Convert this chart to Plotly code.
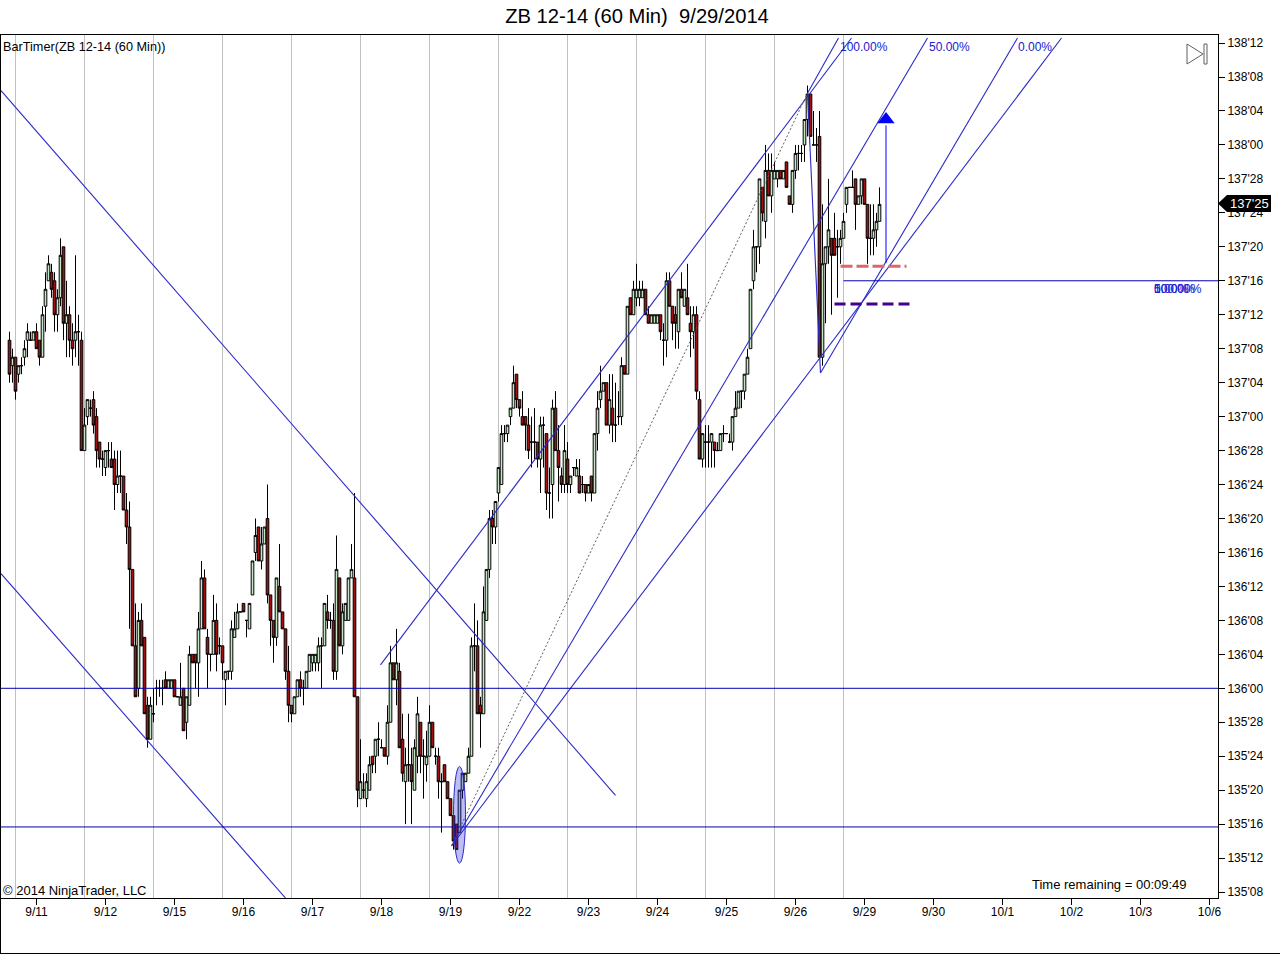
import plotly.graph_objects as go

# prices are in 32nds above 135'00, bars are hourly (23 per session)
opens = [
    73,70,71,69,70,71,73,73,73,74, 73,71,77,80,81,80,76,78,84,75,
    76,73,73,74,73,60,64,65,66,64, 61,59,58,60,59,59,56,57,57,53,
    51,46,37,32,40,38,30,26,29,32, 32,32,33,32,32,33,31,30,32,28,
    30,36,36,35,39,45,38,36,36,40, 37,37,33,34,34,38,39,41,42,40,
    39,43,48,51,47,49,52,43,40,38, 44,41,39,34,30,29,31,33,32,32,
    34,35,35,35,37,37,41,40,40,34, 45,37,40,40,45,45,31,19,20,19,
    20,24,24,26,25,25,24,28,35,33, 34,26,21,23,23,20,24,28,24,23,
    24,28,24,24,21,23,21,19,17,16, 15,20,21,22,24,37,37,30,29,40,
    46,52,51,55,56,62,62,64,65,69, 66,64,64,63,61,61,61,59,63,62,
    55,56,65,60,57,56,59,56,58,57, 57,56,56,55,57,55,62,66,67,68,
    63,65,63,64,64,70,69,78,76,78, 78,78,79,76,75,75,75,76,73,73,
    80,77,76,74,79,77,78,75,74,76, 66,59,61,61,61,61,60,60,62,62,
    61,61,64,65,67,67,69,72,80,84, 84,91,87,93,90,92,92,93,92,94,
    90,89,93,95,95,96,99,102,96,96, 97,71,82,84,85,85,84,84,85,89,
    91,91,92,89,90,92,89,85,85,86, 87,
]
highs = [
    74,72,71,70,71,73,75,74,74,75, 73,77,81,83,82,81,79,85,84,80,
    77,75,83,76,74,65,66,66,67,65, 61,60,60,61,61,60,60,60,57,55,
    54,46,42,41,42,38,31,31,32,33, 33,33,34,33,33,33,31,35,32,31,
    37,36,36,41,47,46,39,36,43,42, 38,37,34,34,40,41,42,41,42,40,
    42,47,52,51,51,51,56,43,40,45, 49,41,39,37,30,31,33,34,33,34,
    36,36,36,38,38,42,43,41,42,50, 45,42,42,45,49,55,31,26,22,22,
    24,24,26,28,26,25,30,37,35,39, 35,29,25,29,25,26,31,28,26,27,
    30,28,25,25,22,23,21,19,17,16, 20,22,22,25,38,42,40,31,44,46,
    53,53,54,58,63,63,63,65,70,69, 66,67,64,65,64,65,61,64,64,62,
    58,66,67,63,58,63,61,57,58,59, 59,57,56,56,57,62,67,70,68,68,
    69,69,68,67,71,70,77,78,80,82, 80,80,79,77,76,76,76,76,75,81,
    81,77,77,79,81,79,82,77,77,77, 67,62,63,63,62,61,61,62,63,62,
    62,64,67,67,67,69,72,79,86,84, 92,91,96,95,95,94,93,93,93,94,
    90,93,96,96,96,99,103,102,100,98, 100,89,84,92,85,88,86,86,88,91,
    91,93,92,90,92,92,89,89,89,88, 91,
]
lows = [
    68,68,66,68,69,70,71,73,73,72, 70,71,74,80,78,74,74,77,73,71,
    71,70,71,70,60,60,63,64,62,58, 58,57,57,58,58,53,55,55,53,49,
    39,37,31,31,37,29,25,26,28,30, 31,30,32,32,32,31,31,30,27,26,
    30,35,32,31,39,39,32,34,36,34, 36,33,30,33,33,38,39,41,41,38,
    39,43,47,47,46,49,42,37,35,37, 41,39,33,28,28,29,31,31,30,32,
    34,34,34,34,32,37,39,39,33,33, 37,36,40,40,45,31,18,19,19,18,
    20,22,22,24,25,24,23,28,33,30, 25,21,16,21,16,20,22,22,19,21,
    24,25,23,19,15,21,19,17,13,13, 15,19,21,22,24,34,29,25,29,40,
    45,49,49,54,56,61,61,63,65,65, 64,63,60,59,58,59,58,55,58,53,
    52,52,60,54,55,55,55,55,57,57, 55,55,54,55,54,55,60,65,67,63,
    62,61,61,63,63,69,69,76,76,77, 77,78,76,75,75,75,75,73,70,71,
    77,73,72,72,78,77,76,71,72,66, 59,58,58,58,58,58,60,60,61,62,
    61,60,64,65,65,66,69,72,79,81, 82,87,85,90,88,92,91,92,92,91,
    89,88,92,93,94,94,97,97,96,94, 71,70,75,82,76,83,78,82,85,88,
    91,91,86,89,89,89,82,83,83,84, 87,
]
closes = [
    69,71,67,70,70,72,74,73,74,72, 71,76,79,82,79,76,78,83,75,76,
    73,72,74,74,60,63,66,65,63,60, 59,59,60,60,58,56,57,57,53,51,
    46,37,31,40,37,29,26,30,29,32, 32,32,32,33,33,31,31,31,27,31,
    36,35,35,39,45,39,36,36,40,36, 37,35,34,34,39,39,41,41,41,40,
    42,47,50,47,49,51,43,40,38,45, 41,39,34,30,29,31,33,32,32,34,
    36,36,36,37,37,42,40,40,34,46, 37,41,42,45,46,31,20,21,20,21,
    23,23,26,26,25,24,28,35,33,35, 25,22,23,23,21,25,29,24,24,24,
    28,25,24,21,21,21,19,17,14,13, 20,22,22,24,37,37,29,29,41,46,
    52,51,54,58,62,62,63,65,68,66, 65,63,63,60,61,61,59,63,63,55,
    55,65,60,58,56,60,56,57,58,58, 55,56,55,56,55,62,65,67,68,63,
    66,63,63,64,70,69,77,76,79,79, 79,79,76,75,76,76,76,74,73,80,
    77,75,75,79,78,79,76,74,76,67, 59,62,61,61,62,60,60,62,62,62,
    61,64,65,67,67,69,71,79,84,84, 92,88,93,90,93,93,93,92,93,91,
    89,93,95,95,95,99,102,97,96,96, 71,82,84,86,83,83,84,85,87,91,
    91,91,89,90,92,89,85,85,86,87, 89,
]

price_ticks = [8,12,16,20,24,28,32,36,40,44,48,52,56,60,64,68,72,76,80,84,88,92,96,100,104,108]
price_labels = ["135'08","135'12","135'16","135'20","135'24","135'28","136'00","136'04","136'08",
                "136'12","136'16","136'20","136'24","136'28","137'00","137'04","137'08","137'12",
                "137'16","137'20","137'24","137'28","138'00","138'04","138'08","138'12"]
date_ticks = [9,32,55,78,101,124,147,170,193,216,239,262,285,308,331,354,377,400]
date_labels = ["9/11","9/12","9/15","9/16","9/17","9/18","9/19","9/22","9/23","9/24","9/25",
               "9/26","9/29","9/30","10/1","10/2","10/3","10/6"]
session_breaks = [2,25,48,71,94,117,140,163,186,209,232,255,278]

# drawing tools, (bar, bar) and (price, price)
down_line_a = ([-2.83, 202], [102.4, 19.4])
down_line_b = ([-2.83, 92], [45.5, 7.3])
channel_top = ([123.67, 280.67], [34.75, 108.6])
channel_bottom = ([147.33, 350.67], [13.43, 108.6])
fork_100 = ([266, 276.33], [102.1, 108.6])
fork_50 = ([147.33, 306], [13.43, 108.6])
fork_0 = ([270.33, 336], [69.14, 108.6])
fork_base = ([266, 270.33], [102.1, 69.14])
fork_guide = ([147.33, 266], [13.43, 102.1])
level_136 = ([-2.83, 402.83], [32, 32])
level_135 = ([-2.83, 402.83], [15.67, 15.67])
level_137 = ([278, 402.83], [80, 80])
arrow_x = [292.17, 292.17]
arrow_y = [82.1, 98.3]
stop_red = ([277, 299], [81.7, 81.7])
stop_purple = ([275, 300.33], [77.27, 77.27])

FONT = "Liberation Sans"
BLUE = "#2a2ac8"


def px(x):
    return (x - 1) / 1217


def py(y):
    return (898 - y) / 863


fig = go.Figure()
fig.add_trace(go.Candlestick(
    x=list(range(len(opens))), open=opens, high=highs, low=lows, close=closes,
    increasing=dict(fillcolor="#c4e6c4", line=dict(color="#000000", width=1)),
    decreasing=dict(fillcolor="#a01010", line=dict(color="#000000", width=1)),
    whiskerwidth=0,
))

for line in [down_line_a, down_line_b, channel_top, channel_bottom, fork_100, fork_50, fork_0, fork_base]:
    fig.add_trace(go.Scatter(x=line[0], y=line[1], mode="lines", line=dict(color=BLUE, width=1.1)))
for line in [level_136, level_135, level_137]:
    fig.add_trace(go.Scatter(x=line[0], y=line[1], mode="lines", line=dict(color="#0000b0", width=1)))
fig.add_trace(go.Scatter(x=fork_guide[0], y=fork_guide[1], mode="lines",
                         line=dict(color="#606060", width=1, dash="2px,2px")))
fig.add_trace(go.Scatter(x=stop_red[0], y=stop_red[1], mode="lines",
                         line=dict(color="#e06666", width=3, dash="12px,4px")))
fig.add_trace(go.Scatter(x=stop_purple[0], y=stop_purple[1], mode="lines",
                         line=dict(color="#400090", width=3, dash="11px,5px")))
fig.add_trace(go.Scatter(x=arrow_x, y=arrow_y, mode="lines", line=dict(color="#0000ff", width=1)))
fig.add_trace(go.Scatter(x=arrow_x[1:], y=[99.0], mode="markers",
                         marker=dict(symbol="triangle-up", size=15, color="#0000ff")))

shapes = []
for b in session_breaks:
    shapes.append(dict(type="line", xref="x", yref="paper", x0=b, x1=b, y0=0, y1=1, layer="below",
                       line=dict(color="#c0c0c0", width=1)))
# ellipse around the low
shapes.append(dict(type="circle", xref="x", yref="y", x0=148, x1=152, y0=11.4, y1=22.8,
                   fillcolor="rgba(40,40,230,0.3)", line=dict(color="#2a2ac8", width=1)))
# last price flag
shapes.append(dict(type="path", xref="paper", yref="paper", fillcolor="#000000", line=dict(width=0),
                   path="M %f %f L %f %f L %f %f L %f %f L %f %f Z" % (
                       px(1218), py(203.5), px(1227), py(195), px(1271), py(195), px(1271), py(212), px(1227), py(212))))
# next-bar icon
shapes.append(dict(type="path", xref="paper", yref="paper", line=dict(color="#606060", width=1),
                   path="M %f %f L %f %f L %f %f Z" % (px(1187), py(44), px(1203), py(54), px(1187), py(64))))
shapes.append(dict(type="rect", xref="paper", yref="paper", x0=px(1204), x1=px(1207), y0=py(64), y1=py(44),
                   line=dict(color="#606060", width=1)))
# window frame
shapes.append(dict(type="line", xref="paper", yref="paper", x0=px(0.5), x1=px(0.5), y0=py(34), y1=py(954),
                   line=dict(color="#000000", width=1)))
shapes.append(dict(type="line", xref="paper", yref="paper", x0=px(0), x1=px(1280), y0=py(953.5), y1=py(953.5),
                   line=dict(color="#000000", width=1)))


def label(text, x, y, size=12, color="#000000", anchor="left"):
    return dict(text=text, xref="paper", yref="paper", x=px(x), y=py(y), xanchor=anchor, yanchor="middle",
                showarrow=False, borderpad=0, font=dict(family=FONT, size=size, color=color))


annotations = [
    label("BarTimer(ZB 12-14 (60 Min))", 2, 47, size=12.7),
    label("\u00a9 2014 NinjaTrader, LLC", 2, 890, size=13),
    label("Time remaining = 00:09:49", 1031, 884, size=13),
    label("100.00%", 839, 47, color="#2020d0"),
    label("50.00%", 928, 47, color="#2020d0"),
    label("0.00%", 1017, 47, color="#2020d0"),
    label("100.00%", 1153, 289, color="#2020d0"),
    label("50.00%", 1153, 289, color="#2020d0"),
    label("0.00%", 1153, 289, color="#2020d0"),
    label("137'25", 1229, 203.5, size=13, color="#ffffff"),
]

fig.update_layout(
    width=1280, height=954,
    margin=dict(l=1, r=62, t=35, b=56),
    paper_bgcolor="#ffffff", plot_bgcolor="#ffffff",
    showlegend=False, boxgap=0.12, boxgroupgap=0,
    title=dict(text="ZB 12-14 (60 Min)\u00a0\u00a09/29/2014", x=637 / 1280, y=1 - 16 / 954,
               xanchor="center", yanchor="middle", font=dict(family=FONT, size=20.2, color="#000000")),
    shapes=shapes, annotations=annotations,
    xaxis=dict(range=[-2.8333, 402.8333], tickvals=date_ticks, ticktext=date_labels, ticks="outside", ticklen=6,
               ticklabelstandoff=-3, tickcolor="#000000", showgrid=False, zeroline=False, showline=True,
               linecolor="#000000", mirror=True, rangeslider=dict(visible=False),
               tickfont=dict(family=FONT, size=12, color="#000000")),
    yaxis=dict(range=[7.3, 108.95], side="right", tickvals=price_ticks, ticktext=price_labels, ticks="outside",
               ticklen=6, tickcolor="#000000", showgrid=False, zeroline=False, showline=True, linecolor="#000000",
               mirror=True, tickfont=dict(family=FONT, size=12, color="#000000")),
)

fig.write_html("out.html", config={"displayModeBar": False},
               post_script="document.body.style.margin='0';")
